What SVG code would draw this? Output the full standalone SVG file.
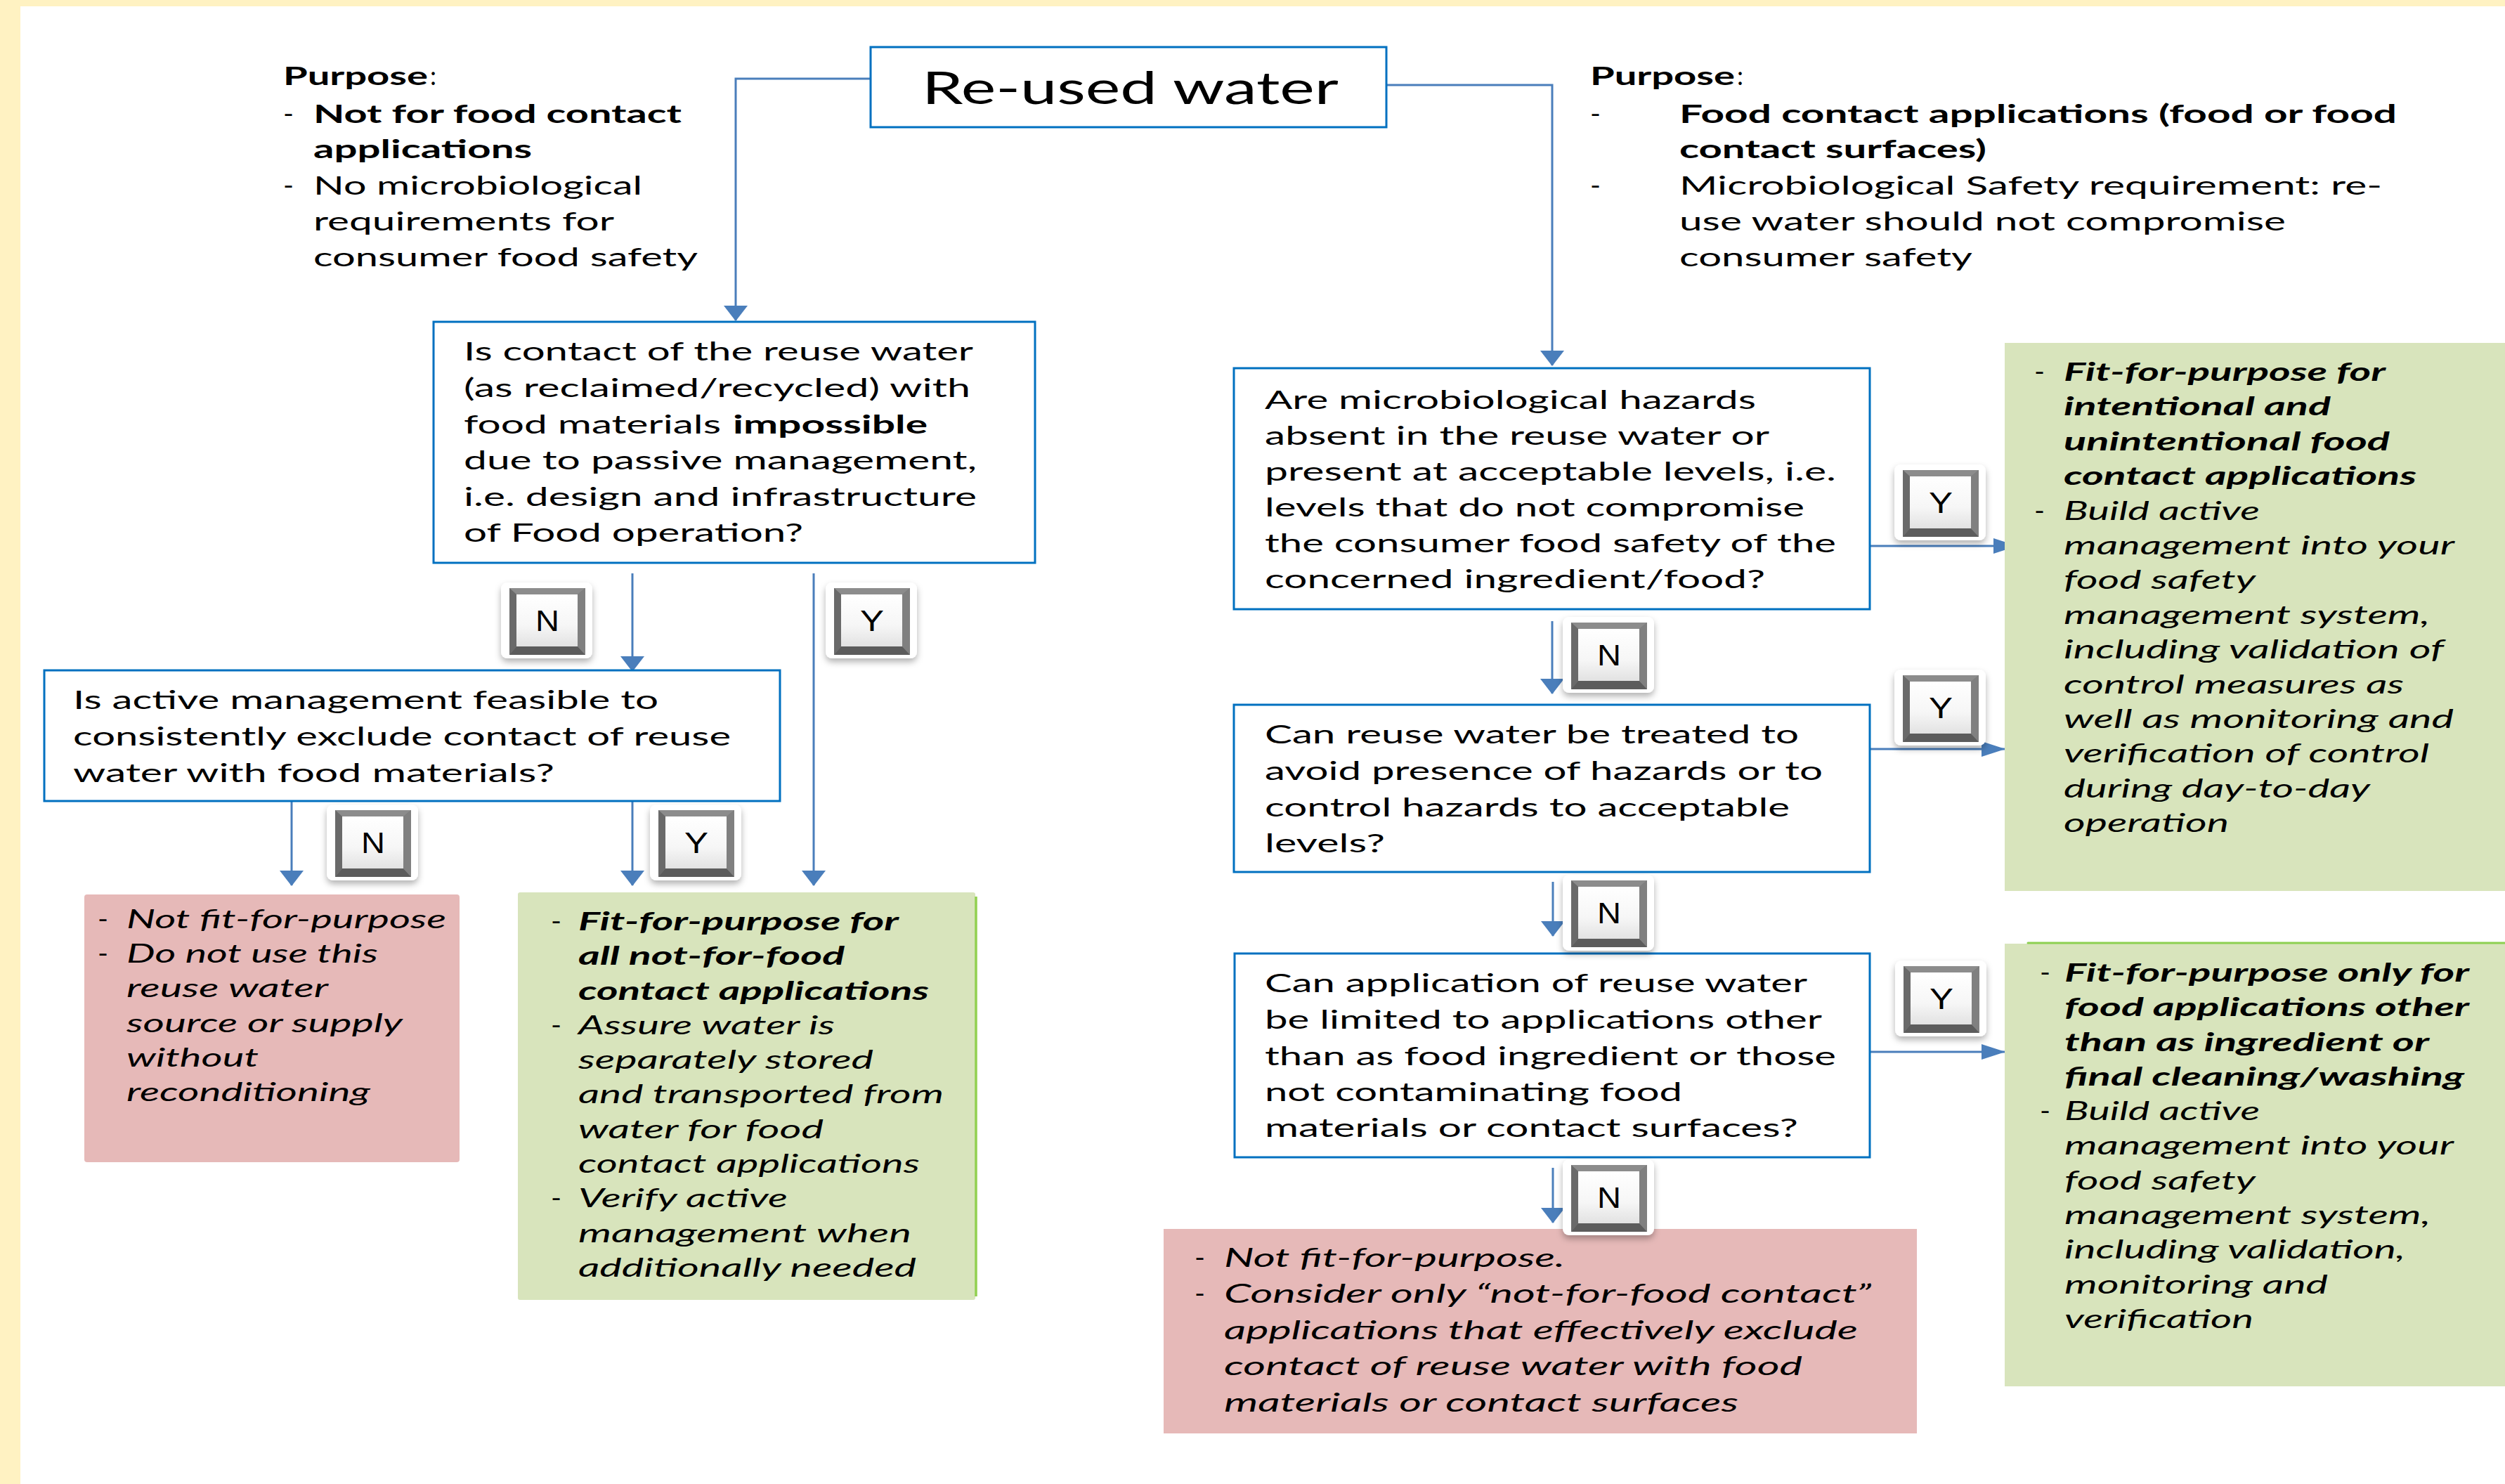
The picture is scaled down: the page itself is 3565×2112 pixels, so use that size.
<svg xmlns="http://www.w3.org/2000/svg" width="3565" height="2112" viewBox="0 0 3565 2112">
<defs>
<style>
.t{font-family:Lato,"Open Sans","DejaVu Sans",sans-serif;font-size:36px;fill:#000}
.b{font-weight:bold}
.i{font-style:italic}
.bi{font-weight:bold;font-style:italic}
.q{fill:#fff;stroke:#0070C0;stroke-width:3}
.gr{fill:#D8E4BC}
.rd{fill:#E6B9B8}
.c{fill:none;stroke:#4A7EBB;stroke-width:3}
.cd{marker-end:url(#arrowD)}
.cr{marker-end:url(#arrowR)}
.lt{font-family:"Liberation Sans",Arial,sans-serif;font-size:42px;fill:#000;text-anchor:middle}
</style>
<marker id="arrowD" markerUnits="userSpaceOnUse" viewBox="0 0 34 22" markerWidth="34" markerHeight="22" refX="17" refY="21" orient="0">
<path d="M0,0 L34,0 L17,22 z" fill="#4A7EBB"/>
</marker>
<marker id="arrowR" markerUnits="userSpaceOnUse" viewBox="0 0 34 22" markerWidth="34" markerHeight="22" refX="33" refY="11" orient="0">
<path d="M0,0 L34,11 L0,22 z" fill="#4A7EBB"/>
</marker>
<filter id="sh" x="-25%" y="-25%" width="150%" height="160%">
<feDropShadow dx="0" dy="5" stdDeviation="5" flood-color="#000" flood-opacity="0.3"/>
</filter>
<linearGradient id="face" x1="0" y1="0" x2="0" y2="1">
<stop offset="0" stop-color="#FFFFFF"/>
<stop offset="0.6" stop-color="#F6F6F6"/>
<stop offset="1" stop-color="#E2E2E2"/>
</linearGradient>
<g id="badge">
<rect x="0" y="0" width="130" height="108" rx="9" fill="#fff" filter="url(#sh)"/>
<rect x="12" y="8" width="108" height="95" fill="#777"/>
<polygon points="12,8 120,8 109,17 22,17" fill="#8C8C8C"/>
<polygon points="12,103 120,103 109,91 22,91" fill="#5C5C5C"/>
<polygon points="12,8 22,17 22,91 12,103" fill="#6A6A6A"/>
<polygon points="120,8 109,17 109,91 120,103" fill="#808080"/>
<rect x="22" y="17" width="87" height="74" fill="url(#face)"/>
</g>
</defs>

<rect x="0" y="0" width="3565" height="2112" fill="#FFF2C2"/>
<rect x="29" y="9" width="3536" height="2103" fill="#FFFFFF"/>

<g id="connectors">
<path class="c cd" d="M1239,112 H1047 V456"/>
<path class="c cd" d="M1973,121 H2209 V520"/>
<path class="c cd" d="M900,816 V955"/>
<path class="c cd" d="M1158,816 V1260"/>
<path class="c cd" d="M415,1140 V1260"/>
<path class="c cd" d="M900,1140 V1260"/>
<path class="c cr" d="M2661,777 H2870"/>
<path class="c cd" d="M2209,884 V987"/>
<path class="c cr" d="M2661,1066 H2853"/>
<path class="c cd" d="M2210,1255 V1332"/>
<path class="c cr" d="M2661,1497 H2853"/>
<path class="c cd" d="M2210,1662 V1740"/>
</g>

<g id="purpose-left">
<text class="t b" x="403" y="121" textLength="206" lengthAdjust="spacingAndGlyphs">Purpose</text>
<text class="t" x="612" y="121">:</text>
<text class="t" x="403" y="175" textLength="15" lengthAdjust="spacingAndGlyphs">-</text>
<text class="t b" x="446" y="175" textLength="524" lengthAdjust="spacingAndGlyphs">Not for food contact</text>
<text class="t b" x="446" y="225" textLength="311" lengthAdjust="spacingAndGlyphs">applications</text>
<text class="t" x="403" y="277" textLength="15" lengthAdjust="spacingAndGlyphs">-</text>
<text class="t" x="446" y="277" textLength="468" lengthAdjust="spacingAndGlyphs">No microbiological</text>
<text class="t" x="446" y="328" textLength="428" lengthAdjust="spacingAndGlyphs">requirements for</text>
<text class="t" x="446" y="379" textLength="547" lengthAdjust="spacingAndGlyphs">consumer food safety</text>
</g>

<g id="purpose-right">
<text class="t b" x="2263" y="121" textLength="206" lengthAdjust="spacingAndGlyphs">Purpose</text>
<text class="t" x="2472" y="121">:</text>
<text class="t" x="2263" y="175" textLength="15" lengthAdjust="spacingAndGlyphs">-</text>
<text class="t b" x="2390" y="175" textLength="1021" lengthAdjust="spacingAndGlyphs">Food contact applications (food or food</text>
<text class="t b" x="2390" y="225" textLength="437" lengthAdjust="spacingAndGlyphs">contact surfaces)</text>
<text class="t" x="2263" y="277" textLength="15" lengthAdjust="spacingAndGlyphs">-</text>
<text class="t" x="2390" y="277" textLength="1000" lengthAdjust="spacingAndGlyphs">Microbiological Safety requirement: re-</text>
<text class="t" x="2390" y="328" textLength="863" lengthAdjust="spacingAndGlyphs">use water should not compromise</text>
<text class="t" x="2390" y="379" textLength="417" lengthAdjust="spacingAndGlyphs">consumer safety</text>
</g>

<g id="reused-water">
<rect class="q" x="1239" y="67" width="734" height="114"/>
<text class="t" style="font-size:63px" x="1312" y="148" textLength="593" lengthAdjust="spacingAndGlyphs">Re-used water</text>
</g>

<g id="q-contact-impossible">
<rect class="q" x="617" y="458" width="856" height="343"/>
<text class="t" x="660" y="513" textLength="725" lengthAdjust="spacingAndGlyphs">Is contact of the reuse water</text>
<text class="t" x="660" y="565" textLength="721" lengthAdjust="spacingAndGlyphs">(as reclaimed/recycled) with</text>
<text class="t" x="660" y="617" textLength="366" lengthAdjust="spacingAndGlyphs">food materials</text>
<text class="t b" x="1043" y="617" textLength="277" lengthAdjust="spacingAndGlyphs">impossible</text>
<text class="t" x="660" y="668" textLength="730" lengthAdjust="spacingAndGlyphs">due to passive management,</text>
<text class="t" x="660" y="720" textLength="730" lengthAdjust="spacingAndGlyphs">i.e. design and infrastructure</text>
<text class="t" x="660" y="771" textLength="483" lengthAdjust="spacingAndGlyphs">of Food operation?</text>
</g>

<g id="q-active-management">
<rect class="q" x="63" y="954" width="1047" height="186"/>
<text class="t" x="104" y="1009" textLength="833" lengthAdjust="spacingAndGlyphs">Is active management feasible to</text>
<text class="t" x="104" y="1061" textLength="936" lengthAdjust="spacingAndGlyphs">consistently exclude contact of reuse</text>
<text class="t" x="104" y="1113" textLength="685" lengthAdjust="spacingAndGlyphs">water with food materials?</text>
</g>

<g id="q-hazards-absent">
<rect class="q" x="1756" y="524" width="905" height="343"/>
<text class="t" x="1800" y="582" textLength="699" lengthAdjust="spacingAndGlyphs">Are microbiological hazards</text>
<text class="t" x="1800" y="633" textLength="718" lengthAdjust="spacingAndGlyphs">absent in the reuse water or</text>
<text class="t" x="1800" y="684" textLength="813" lengthAdjust="spacingAndGlyphs">present at acceptable levels, i.e.</text>
<text class="t" x="1800" y="735" textLength="768" lengthAdjust="spacingAndGlyphs">levels that do not compromise</text>
<text class="t" x="1800" y="786" textLength="813" lengthAdjust="spacingAndGlyphs">the consumer food safety of the</text>
<text class="t" x="1800" y="837" textLength="712" lengthAdjust="spacingAndGlyphs">concerned ingredient/food?</text>
</g>

<g id="q-treated">
<rect class="q" x="1756" y="1003" width="905" height="238"/>
<text class="t" x="1800" y="1058" textLength="760" lengthAdjust="spacingAndGlyphs">Can reuse water be treated to</text>
<text class="t" x="1800" y="1110" textLength="794" lengthAdjust="spacingAndGlyphs">avoid presence of hazards or to</text>
<text class="t" x="1800" y="1162" textLength="747" lengthAdjust="spacingAndGlyphs">control hazards to acceptable</text>
<text class="t" x="1800" y="1213" textLength="171" lengthAdjust="spacingAndGlyphs">levels?</text>
</g>

<g id="q-limited">
<rect class="q" x="1757" y="1357" width="904" height="290"/>
<text class="t" x="1800" y="1412" textLength="772" lengthAdjust="spacingAndGlyphs">Can application of reuse water</text>
<text class="t" x="1800" y="1464" textLength="793" lengthAdjust="spacingAndGlyphs">be limited to applications other</text>
<text class="t" x="1800" y="1516" textLength="813" lengthAdjust="spacingAndGlyphs">than as food ingredient or those</text>
<text class="t" x="1800" y="1567" textLength="594" lengthAdjust="spacingAndGlyphs">not contaminating food</text>
<text class="t" x="1800" y="1618" textLength="759" lengthAdjust="spacingAndGlyphs">materials or contact surfaces?</text>
</g>

<g id="red-left">
<rect class="rd" x="120" y="1273" width="534" height="381" rx="4"/>
<text class="t" x="139" y="1321" textLength="15" lengthAdjust="spacingAndGlyphs">-</text>
<text class="t i" x="180" y="1321" textLength="455" lengthAdjust="spacingAndGlyphs">Not fit-for-purpose</text>
<text class="t" x="139" y="1370" textLength="15" lengthAdjust="spacingAndGlyphs">-</text>
<text class="t i" x="180" y="1370" textLength="358" lengthAdjust="spacingAndGlyphs">Do not use this</text>
<text class="t i" x="180" y="1419" textLength="287" lengthAdjust="spacingAndGlyphs">reuse water</text>
<text class="t i" x="180" y="1469" textLength="393" lengthAdjust="spacingAndGlyphs">source or supply</text>
<text class="t i" x="180" y="1518" textLength="188" lengthAdjust="spacingAndGlyphs">without</text>
<text class="t i" x="180" y="1567" textLength="347" lengthAdjust="spacingAndGlyphs">reconditioning</text>
</g>

<g id="green-left">
<rect class="gr" x="737" y="1270" width="651" height="580" rx="3"/>
<line x1="1389" y1="1276" x2="1389" y2="1845" stroke="#92D050" stroke-width="3.5"/>
<text class="t" x="784" y="1324" textLength="15" lengthAdjust="spacingAndGlyphs">-</text>
<text class="t bi" x="823" y="1324" textLength="456" lengthAdjust="spacingAndGlyphs">Fit-for-purpose for</text>
<text class="t bi" x="823" y="1373" textLength="379" lengthAdjust="spacingAndGlyphs">all not-for-food</text>
<text class="t bi" x="823" y="1423" textLength="499" lengthAdjust="spacingAndGlyphs">contact applications</text>
<text class="t" x="784" y="1472" textLength="15" lengthAdjust="spacingAndGlyphs">-</text>
<text class="t i" x="823" y="1472" textLength="365" lengthAdjust="spacingAndGlyphs">Assure water is</text>
<text class="t i" x="823" y="1521" textLength="420" lengthAdjust="spacingAndGlyphs">separately stored</text>
<text class="t i" x="823" y="1570" textLength="520" lengthAdjust="spacingAndGlyphs">and transported from</text>
<text class="t i" x="823" y="1620" textLength="349" lengthAdjust="spacingAndGlyphs">water for food</text>
<text class="t i" x="823" y="1669" textLength="486" lengthAdjust="spacingAndGlyphs">contact applications</text>
<text class="t" x="784" y="1718" textLength="15" lengthAdjust="spacingAndGlyphs">-</text>
<text class="t i" x="823" y="1718" textLength="298" lengthAdjust="spacingAndGlyphs">Verify active</text>
<text class="t i" x="823" y="1768" textLength="474" lengthAdjust="spacingAndGlyphs">management when</text>
<text class="t i" x="823" y="1817" textLength="481" lengthAdjust="spacingAndGlyphs">additionally needed</text>
</g>

<g id="green-right-1">
<rect class="gr" x="2853" y="488" width="712" height="780"/>
<text class="t" x="2895" y="542" textLength="15" lengthAdjust="spacingAndGlyphs">-</text>
<text class="t bi" x="2937" y="542" textLength="458" lengthAdjust="spacingAndGlyphs">Fit-for-purpose for</text>
<text class="t bi" x="2937" y="591" textLength="380" lengthAdjust="spacingAndGlyphs">intentional and</text>
<text class="t bi" x="2937" y="641" textLength="464" lengthAdjust="spacingAndGlyphs">unintentional food</text>
<text class="t bi" x="2937" y="690" textLength="502" lengthAdjust="spacingAndGlyphs">contact applications</text>
<text class="t" x="2895" y="740" textLength="15" lengthAdjust="spacingAndGlyphs">-</text>
<text class="t i" x="2937" y="740" textLength="279" lengthAdjust="spacingAndGlyphs">Build active</text>
<text class="t i" x="2937" y="789" textLength="556" lengthAdjust="spacingAndGlyphs">management into your</text>
<text class="t i" x="2937" y="838" textLength="273" lengthAdjust="spacingAndGlyphs">food safety</text>
<text class="t i" x="2937" y="888" textLength="521" lengthAdjust="spacingAndGlyphs">management system,</text>
<text class="t i" x="2937" y="937" textLength="541" lengthAdjust="spacingAndGlyphs">including validation of</text>
<text class="t i" x="2937" y="987" textLength="484" lengthAdjust="spacingAndGlyphs">control measures as</text>
<text class="t i" x="2937" y="1036" textLength="555" lengthAdjust="spacingAndGlyphs">well as monitoring and</text>
<text class="t i" x="2937" y="1085" textLength="520" lengthAdjust="spacingAndGlyphs">verification of control</text>
<text class="t i" x="2937" y="1135" textLength="436" lengthAdjust="spacingAndGlyphs">during day-to-day</text>
<text class="t i" x="2937" y="1184" textLength="235" lengthAdjust="spacingAndGlyphs">operation</text>
</g>

<g id="green-right-2">
<rect class="gr" x="2853" y="1343" width="712" height="630"/>
<line x1="2886" y1="1342" x2="3565" y2="1342" stroke="#8CD050" stroke-width="3" stroke-linecap="round"/>
<text class="t" x="2903" y="1397" textLength="15" lengthAdjust="spacingAndGlyphs">-</text>
<text class="t bi" x="2938" y="1397" textLength="576" lengthAdjust="spacingAndGlyphs">Fit-for-purpose only for</text>
<text class="t bi" x="2938" y="1446" textLength="576" lengthAdjust="spacingAndGlyphs">food applications other</text>
<text class="t bi" x="2938" y="1496" textLength="519" lengthAdjust="spacingAndGlyphs">than as ingredient or</text>
<text class="t bi" x="2938" y="1545" textLength="569" lengthAdjust="spacingAndGlyphs">final cleaning/washing</text>
<text class="t" x="2903" y="1594" textLength="15" lengthAdjust="spacingAndGlyphs">-</text>
<text class="t i" x="2938" y="1594" textLength="278" lengthAdjust="spacingAndGlyphs">Build active</text>
<text class="t i" x="2938" y="1643" textLength="554" lengthAdjust="spacingAndGlyphs">management into your</text>
<text class="t i" x="2938" y="1693" textLength="272" lengthAdjust="spacingAndGlyphs">food safety</text>
<text class="t i" x="2938" y="1742" textLength="521" lengthAdjust="spacingAndGlyphs">management system,</text>
<text class="t i" x="2938" y="1791" textLength="485" lengthAdjust="spacingAndGlyphs">including validation,</text>
<text class="t i" x="2938" y="1841" textLength="375" lengthAdjust="spacingAndGlyphs">monitoring and</text>
<text class="t i" x="2938" y="1890" textLength="269" lengthAdjust="spacingAndGlyphs">verification</text>
</g>

<g id="red-bottom">
<rect class="rd" x="1656" y="1749" width="1072" height="291"/>
<text class="t" x="1700" y="1803" textLength="15" lengthAdjust="spacingAndGlyphs">-</text>
<text class="t i" x="1742" y="1803" textLength="485" lengthAdjust="spacingAndGlyphs">Not fit-for-purpose.</text>
<text class="t" x="1700" y="1854" textLength="15" lengthAdjust="spacingAndGlyphs">-</text>
<text class="t i" x="1742" y="1854" textLength="921" lengthAdjust="spacingAndGlyphs">Consider only “not-for-food contact”</text>
<text class="t i" x="1742" y="1906" textLength="902" lengthAdjust="spacingAndGlyphs">applications that effectively exclude</text>
<text class="t i" x="1742" y="1957" textLength="823" lengthAdjust="spacingAndGlyphs">contact of reuse water with food</text>
<text class="t i" x="1742" y="2009" textLength="732" lengthAdjust="spacingAndGlyphs">materials or contact surfaces</text>
</g>

<g id="badge-n1"><use href="#badge" x="713" y="829"/><text class="lt" x="779" y="898" textLength="34" lengthAdjust="spacingAndGlyphs">N</text></g>
<g id="badge-y1"><use href="#badge" x="1175" y="829"/><text class="lt" x="1241" y="898" textLength="34" lengthAdjust="spacingAndGlyphs">Y</text></g>
<g id="badge-n2"><use href="#badge" x="465" y="1145"/><text class="lt" x="531" y="1214" textLength="34" lengthAdjust="spacingAndGlyphs">N</text></g>
<g id="badge-y2"><use href="#badge" x="925" y="1145"/><text class="lt" x="991" y="1214" textLength="34" lengthAdjust="spacingAndGlyphs">Y</text></g>
<g id="badge-y3"><use href="#badge" x="2696" y="661"/><text class="lt" x="2762" y="730" textLength="34" lengthAdjust="spacingAndGlyphs">Y</text></g>
<g id="badge-n3"><use href="#badge" x="2224" y="878"/><text class="lt" x="2290" y="947" textLength="34" lengthAdjust="spacingAndGlyphs">N</text></g>
<g id="badge-y4"><use href="#badge" x="2696" y="953"/><text class="lt" x="2762" y="1022" textLength="34" lengthAdjust="spacingAndGlyphs">Y</text></g>
<g id="badge-n4"><use href="#badge" x="2224" y="1245"/><text class="lt" x="2290" y="1314" textLength="34" lengthAdjust="spacingAndGlyphs">N</text></g>
<g id="badge-y5"><use href="#badge" x="2697" y="1367"/><text class="lt" x="2763" y="1436" textLength="34" lengthAdjust="spacingAndGlyphs">Y</text></g>
<g id="badge-n5"><use href="#badge" x="2224" y="1650"/><text class="lt" x="2290" y="1719" textLength="34" lengthAdjust="spacingAndGlyphs">N</text></g>
</svg>
